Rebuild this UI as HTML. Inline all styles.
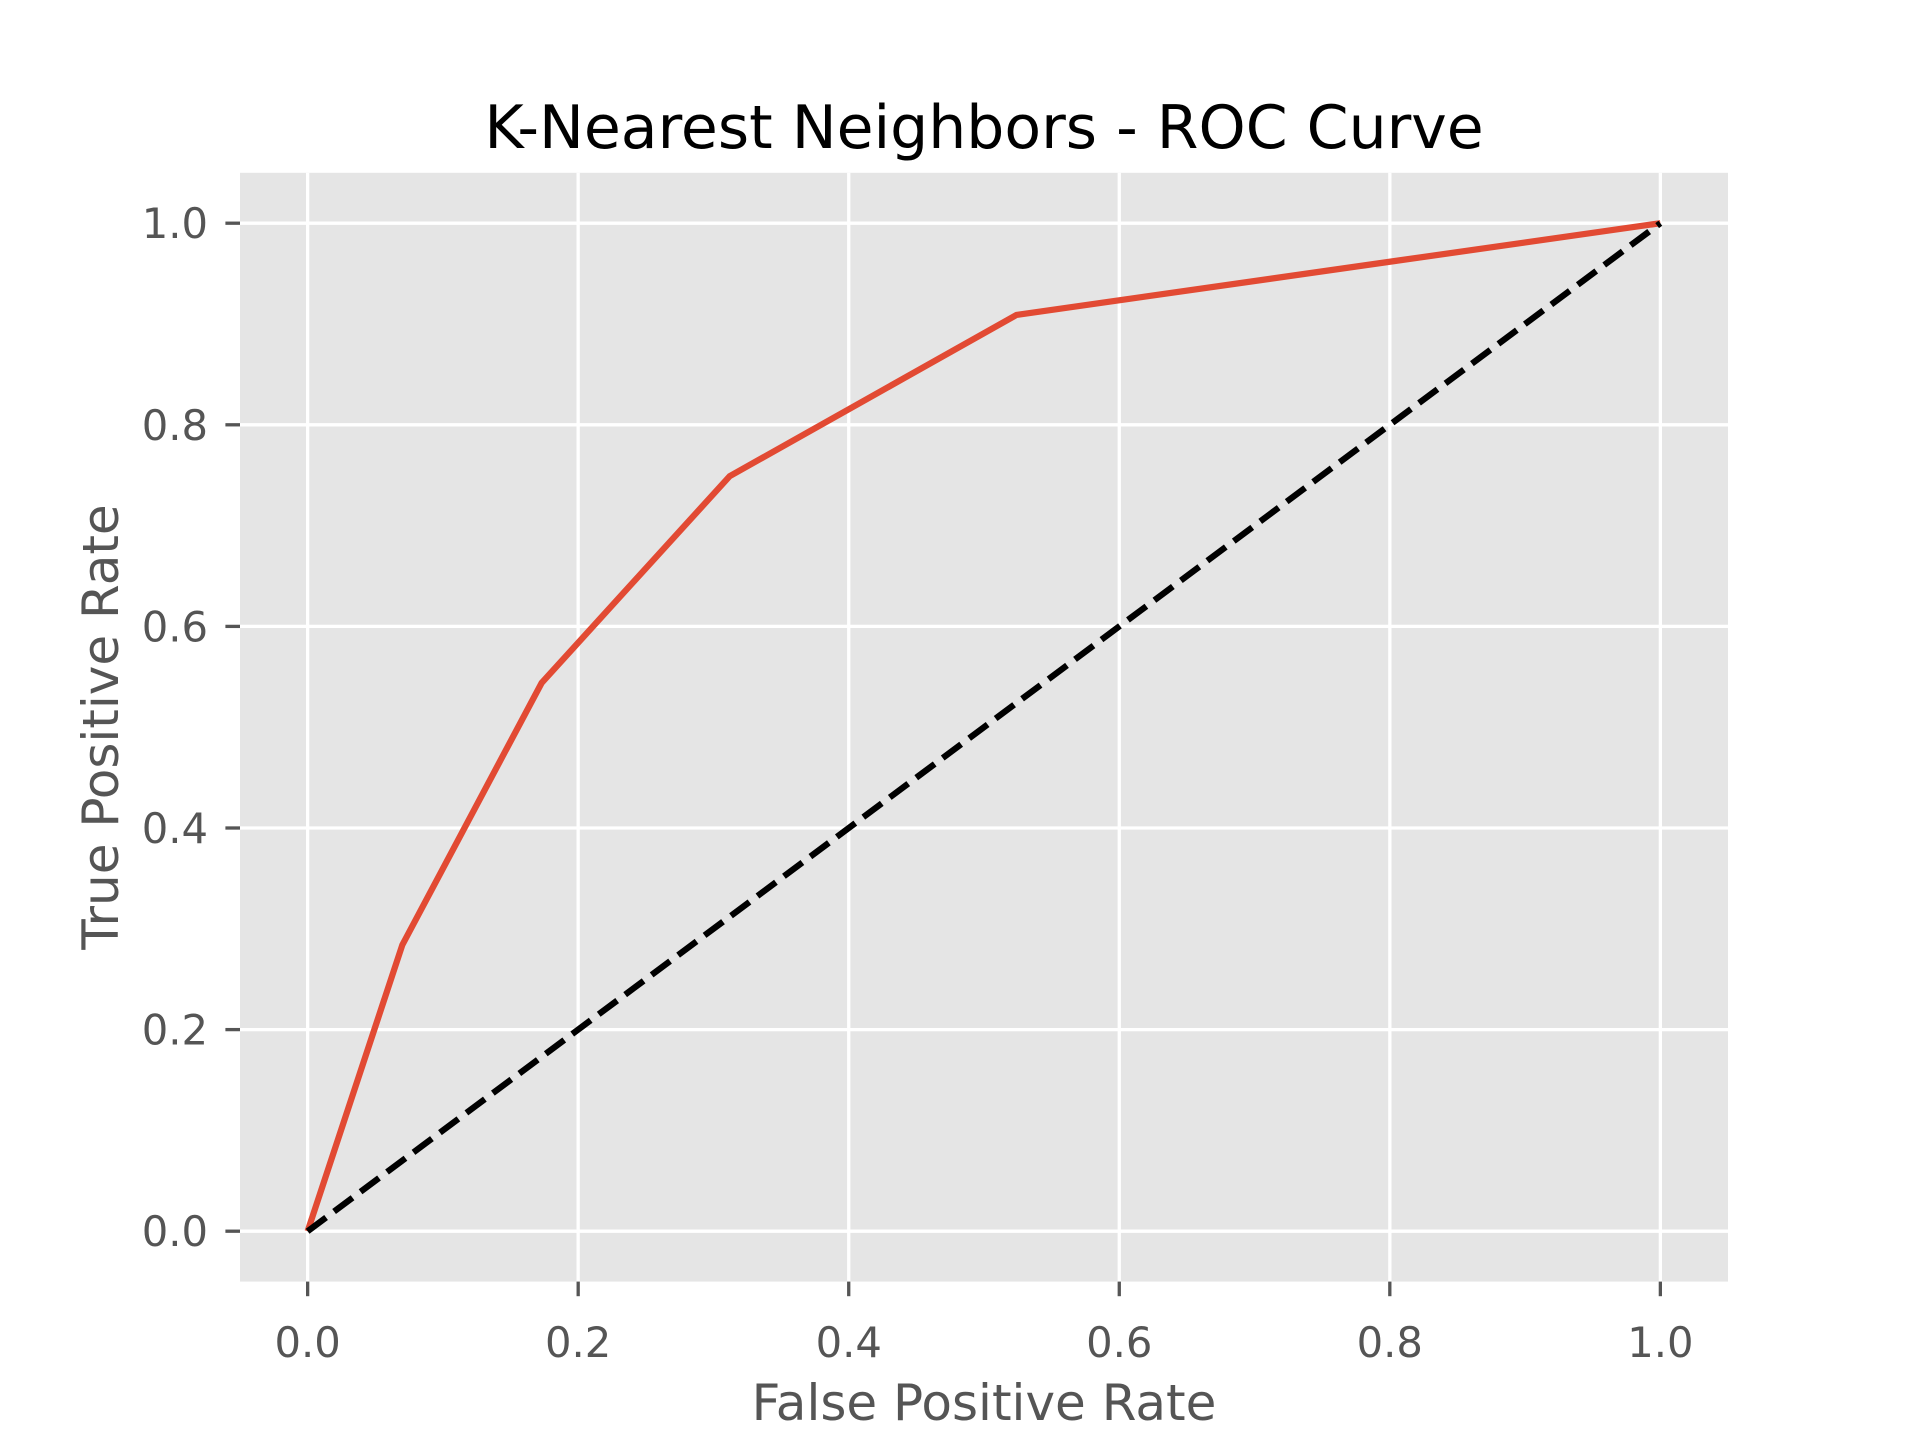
<!DOCTYPE html>
<html><head><meta charset="utf-8"><style>
html,body{margin:0;padding:0;background:#fff;}
svg{display:block;font-family:"DejaVu Sans","Liberation Sans",sans-serif;}
</style></head><body>
<svg id="chart" width="1920" height="1440" viewBox="0 0 1920 1440" xmlns="http://www.w3.org/2000/svg">
<rect x="0" y="0" width="1920" height="1440" fill="#ffffff"/>
<rect x="240" y="172.8" width="1488" height="1108.8" fill="#e5e5e5"/>
<g id="grid"></g>
<g id="ticks"></g>
<g id="series"></g>
<text x="984" y="148" text-anchor="middle" font-size="60" fill="#000">K-Nearest Neighbors - ROC Curve</text>
<text x="984" y="1420" text-anchor="middle" font-size="50" fill="#555">False Positive Rate</text>
<text transform="translate(118,727) rotate(-90)" text-anchor="middle" font-size="50" fill="#555">True Positive Rate</text>
</svg>
<script>
const fpr = [0, 0.070, 0.173, 0.312, 0.524, 1.0];
const tpr = [0, 0.284, 0.544, 0.749, 0.909, 1.0];
const chanceX = [0, 1];
const chanceY = [0, 1];
const xTicks = [0, 0.2, 0.4, 0.6, 0.8, 1.0];
const yTicks = [0, 0.2, 0.4, 0.6, 0.8, 1.0];
const tickLabels = ["0.0", "0.2", "0.4", "0.6", "0.8", "1.0"];

const NS = "http://www.w3.org/2000/svg";
const L = 240, R = 1728, T = 172.8, B = 1281.6;
const xs = v => L + (v + 0.05) / 1.1 * (R - L);
const ys = v => B - (v + 0.05) / 1.1 * (B - T);
function mk(tag, attrs, parent) {
  const e = document.createElementNS(NS, tag);
  for (const k in attrs) e.setAttribute(k, attrs[k]);
  parent.appendChild(e);
  return e;
}
const grid = document.getElementById('grid');
const ticks = document.getElementById('ticks');
const series = document.getElementById('series');
xTicks.forEach((v, i) => {
  const g = mk('line', {x1: xs(v), x2: xs(v), y1: T, y2: B, stroke: '#fff', 'stroke-width': 3.3}, grid);
  
  
  const t = mk('line', {x1: xs(v), x2: xs(v), y1: B, y2: B + 14.6, stroke: '#555', 'stroke-width': 3.3}, ticks);
  
  
  const tx = mk('text', {x: xs(v), y: 1357, 'text-anchor': 'middle', 'font-size': 41.7, fill: '#555'}, ticks);
  tx.textContent = tickLabels[i];
  
  
});
yTicks.forEach((v, i) => {
  const g = mk('line', {x1: L, x2: R, y1: ys(v), y2: ys(v), stroke: '#fff', 'stroke-width': 3.3}, grid);
  
  
  const t = mk('line', {x1: L - 14.6, x2: L, y1: ys(v), y2: ys(v), stroke: '#555', 'stroke-width': 3.3}, ticks);
  
  
  const tx = mk('text', {x: 208, y: ys(v) + 15, 'text-anchor': 'end', 'font-size': 41.7, fill: '#555'}, ticks);
  tx.textContent = tickLabels[i];
  
  
});
const roc = mk('polyline', {points: fpr.map((v, i) => xs(v) + ',' + ys(tpr[i])).join(' '), fill: 'none', stroke: '#e24a33', 'stroke-width': 6.25, 'stroke-linejoin': 'round'}, series);


const ch = mk('polyline', {points: chanceX.map((v, i) => xs(v) + ',' + ys(chanceY[i])).join(' '), fill: 'none', stroke: '#000', 'stroke-width': 6.25, 'stroke-dasharray': '23,10'}, series);


</script>
</body></html>
